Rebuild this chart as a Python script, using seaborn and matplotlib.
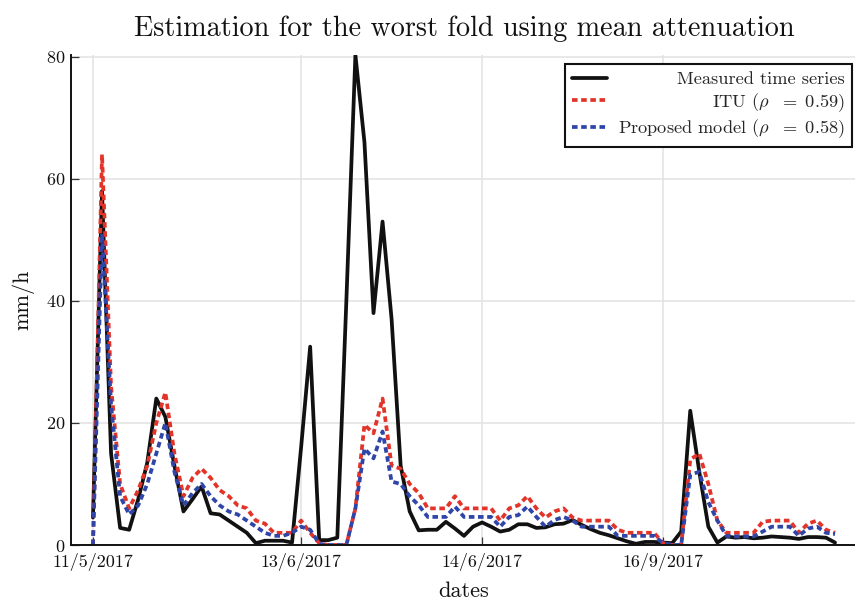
import matplotlib
matplotlib.use("Agg")
import matplotlib.pyplot as plt
import seaborn as sns

# values (mm/h), one per sample
measured = [4.5, 58, 15, 2.8, 2.5, 7.5, 13.5, 24, 21, 13,
            5.5, 7.5, 9.6, 5.2, 5, 4, 3, 2, 0.3, 0.7,
            0.7, 0.7, 0.4, 16, 32.5, 0.8, 0.8, 1.2, 40, 80.3,
            66, 38, 53, 37, 13, 5.5, 2.4, 2.5, 2.5, 3.8,
            2.7, 1.5, 3, 3.7, 3, 2.2, 2.5, 3.4, 3.4, 2.8,
            2.9, 3.4, 3.5, 4.1, 3.3, 2.6, 2, 1.6, 1.1, 0.6,
            0.2, 0.5, 0.5, 0.4, 0.3, 2.2, 22, 12, 3, 0.4,
            1.4, 1.2, 1.3, 1.1, 1.2, 1.4, 1.3, 1.2, 1.0, 1.3,
            1.3, 1.2, 0.4]

itu = [0, 64, 26, 10, 6, 9, 13, 20, 25, 15,
       8, 11, 12.5, 11, 9, 8, 6.5, 6, 4, 3.5,
       2, 2, 2, 4, 2, 0.3, 0, 0, 0, 6,
       19.7, 18.3, 24, 13, 12.5, 10, 8.5, 6, 6, 6,
       8, 6, 6, 6, 6, 4, 6, 6.5, 8, 6,
       4.5, 5.5, 6, 4.5, 4, 4, 4, 4, 2.5, 2,
       2, 2, 2, 0.3, 0, 0, 14, 15, 10, 4,
       2, 2, 2, 2, 3.8, 4, 4, 4, 2, 3.5,
       4, 2.5, 2]

proposed = [0, 51, 23, 8, 5, 6.5, 10, 15, 20, 12,
            6.5, 8.5, 10, 8, 6.5, 5.5, 5, 4, 3, 2,
            1.5, 1.5, 2, 3, 2.5, 0.2, 0, 0, 0, 6,
            15.8, 14.2, 18.6, 10.4, 10, 8, 6.5, 4.6, 4.6, 4.6,
            6.3, 4.6, 4.6, 4.6, 4.6, 3, 4.6, 4.9, 6.3, 4.6,
            3, 4.1, 4.6, 4, 3, 3, 3, 3, 1.5, 1.5,
            1.5, 1.5, 1.5, 0.3, 0, 0, 11.5, 12, 7, 4,
            1.5, 1.4, 1.4, 1.4, 2.2, 3, 3, 3, 1.5, 2.7,
            3, 2, 1.8]

tick_idx = [0, 23, 43, 63]
tick_labels = ["11/5/2017", "13/6/2017", "14/6/2017", "16/9/2017"]

labels = ["Measured time series",
          r"ITU ($\rho\ \ =\ 0.59$)",
          r"Proposed model ($\rho\ \ =\ 0.58$)"]

idx = list(range(len(measured)))

sns.set_theme(style="whitegrid")
plt.rcParams["font.family"] = ["cmr10"]
plt.rcParams["mathtext.fontset"] = "cm"
plt.rcParams["axes.formatter.use_mathtext"] = True
plt.rcParams["lines.scale_dashes"] = False

fig = plt.figure(figsize=(8.55, 6.03), dpi=100)
ax = fig.add_axes([70.7 / 855, 58 / 603, 786.6 / 855, 490 / 603])

dots = (0, (4.0, 2.6))
sns.lineplot(x=idx, y=measured, color="#111111", lw=2.7, label=labels[0], ax=ax)
sns.lineplot(x=idx, y=itu, color="#e3342a", lw=2.7, linestyle=dots, label=labels[1], ax=ax)
sns.lineplot(x=idx, y=proposed, color="#2f45a8", lw=2.7, linestyle=dots, label=labels[2], ax=ax)

n = len(measured) - 1
ax.set_xlim(-0.03 * n, n + 0.03 * n)
ax.set_ylim(0, 80.3)
ax.set_yticks([0, 20, 40, 60, 80])
ax.set_xticks(tick_idx)
ax.set_xticklabels(tick_labels)

ax.set_facecolor("white")
ax.grid(True, color="#e2e2e2", lw=1.1)
for side in ["top", "right"]:
    ax.spines[side].set_visible(False)
for side in ["left", "bottom"]:
    ax.spines[side].set_visible(True)
    ax.spines[side].set_color("#111111")
    ax.spines[side].set_linewidth(1.4)

ax.tick_params(direction="in", length=6, width=0.9, color="#333333",
               labelsize=13, labelcolor="#111111", pad=4)
ax.tick_params(axis="y", left=True)
ax.tick_params(axis="x", bottom=True, pad=6)

ax.set_title("Estimation for the worst fold using mean attenuation",
             fontsize=20.3, color="#111111", pad=14)
ax.set_xlabel("dates", fontsize=16, color="#111111", labelpad=7)
ax.set_ylabel("mm/h", fontsize=16, color="#111111", labelpad=8)

leg = ax.legend(loc="upper right", bbox_to_anchor=(0.9933, 0.9816),
                borderaxespad=0, fontsize=13.2, frameon=True, fancybox=False,
                framealpha=1, edgecolor="#111111", handlelength=1.9,
                labelspacing=0.2, borderpad=0.4, handletextpad=0.6)
leg.get_frame().set_linewidth(1.5)

# right-align the legend labels like the original
fig.canvas.draw()
widths = [t.get_window_extent().width for t in leg.get_texts()]
for t, w in zip(leg.get_texts(), widths):
    t.set_position((max(widths) - w, 0))

fig.savefig("out.png", dpi=100)
